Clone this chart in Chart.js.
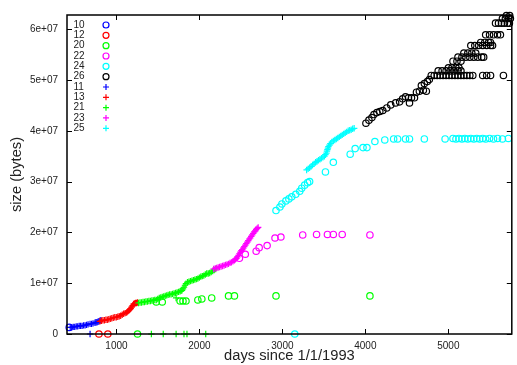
<!DOCTYPE html>
<html><head><meta charset="utf-8">
<script src="https://cdn.jsdelivr.net/npm/chart.js@4.4.1/dist/chart.umd.min.js"></script>
<style>html,body{margin:0;padding:0;background:#fff}#wrap{width:517px;height:365px;position:relative}</style>
</head><body><div id="wrap"><canvas id="c" width="517" height="365"></canvas></div>
<script>
const seriesNames = ['10','12','20','22','24','26','11','13','21','23','25'];
const seriesColors = ['#0000ff','#ff0000','#00ff00','#ff00ff','#00ffff','#000000','#0000ff','#ff0000','#00ff00','#ff00ff','#00ffff'];
const seriesMarks = ['circle','circle','circle','circle','circle','circle','cross','cross','cross','cross','cross'];
const xTicks = [1000, 2000, 3000, 4000, 5000];
const xTickLabels = ['1000', '2000', '3000', '4000', '5000'];
const yTicks = [0, 1e7, 2e7, 3e7, 4e7, 5e7, 6e7];
const yTickLabels = ['0', '1e+07', '2e+07', '3e+07', '4e+07', '5e+07', '6e+07'];
const xTitle = 'days since 1/1/1993';
const yTitle = 'size (bytes)';

// sizes in millions of bytes
const days10 = [431];
const size10 = [1.3];
const days12 = [789, 896];
const size12 = [0, 0];
const days20 = [1254, 1480, 1552, 1767, 1802, 1838, 1981, 2029, 2148, 2351, 2422, 2923, 4055];
const size20 = [0, 6.3, 6.3, 6.5, 6.5, 6.5, 6.7, 6.9, 7.1, 7.5, 7.5, 7.5, 7.5];
const days22 = [2482, 2553, 2684, 2720, 2816, 2911, 2982, 3245, 3412, 3543, 3614, 3721, 4055];
const size22 = [14.9, 15.7, 16.3, 17.0, 17.4, 18.9, 19.1, 19.5, 19.6, 19.6, 19.6, 19.6, 19.5];
const days24 = [3149, 2923, 2970, 2994, 3042, 3078, 3113, 3161, 3209, 3233, 3268, 3304, 3328,
  3519, 3614, 3817, 3877, 3972, 4019, 4115, 4234, 4341, 4389, 4484, 4532, 4711, 4961,
  5056, 5092, 5128, 5164, 5199, 5235, 5271, 5307, 5343, 5378, 5414, 5450, 5497, 5545, 5593, 5652, 5724];
const size24 = [0, 24.3, 25.0, 25.6, 26.2, 26.6, 27.0, 27.5, 28.1, 28.7, 29.3, 29.8, 30.0,
  31.9, 33.8, 35.4, 36.5, 36.7, 36.7, 37.9, 38.2, 38.4, 38.4, 38.4, 38.4, 38.4, 38.4,
  38.5, 38.4, 38.5, 38.4, 38.5, 38.4, 38.5, 38.4, 38.5, 38.4, 38.5, 38.4, 38.5, 38.4, 38.5, 38.4, 38.5];
const days26 = [4007, 4043, 4079, 4103, 4139, 4174, 4210, 4258, 4306, 4365, 4413, 4449, 4484, 4520, 4556, 4592, 4532, 4616, 4651, 4699, 4735, 4675, 4711, 4747, 4771,
  4794, 4830, 4866, 4901, 4937, 4973, 5009, 5044, 5080, 5116, 5152, 5187, 5223, 5259, 5295, 5414, 5462, 5509, 5664,
  4878, 4925, 4973, 5021, 5068, 5116, 5152,
  5001, 5044, 5092, 5128,
  5056, 5104, 5152,
  5116, 5164, 5211, 5259, 5307, 5354, 5402, 5426,
  5187, 5235, 5283, 5330,
  5271, 5319, 5366, 5414, 5462, 5509, 5533,
  5390, 5438, 5485, 5509,
  5450, 5497, 5545, 5593, 5628,
  5569, 5605, 5641, 5676, 5712, 5736,
  5652, 5688, 5724, 5748,
  5700, 5740];
const size26 = [41.5, 42.1, 42.6, 43.2, 43.6, 43.8, 44.0, 44.5, 45.1, 45.5, 45.7, 46.3, 46.7, 46.5, 46.5, 46.5, 45.5, 47.6, 47.8, 48.0, 47.8, 48.9, 49.3, 49.7, 50.1,
  50.9, 50.9, 50.9, 50.9, 50.9, 50.9, 50.9, 50.9, 50.9, 50.9, 50.9, 50.9, 50.9, 50.9, 50.9, 50.9, 50.9, 50.9, 50.9,
  51.8, 51.8, 51.8, 51.8, 51.8, 51.8, 51.8,
  52.4, 52.4, 52.4, 52.4,
  53.7, 53.7, 53.7,
  54.5, 54.5, 54.5, 54.5, 54.5, 54.5, 54.5, 54.5,
  55.3, 55.3, 55.3, 55.3,
  56.8, 56.8, 56.8, 56.8, 56.8, 56.8, 56.8,
  57.4, 57.4, 57.4, 57.4,
  58.9, 58.9, 58.9, 58.9, 58.9,
  61.2, 61.2, 61.2, 61.2, 61.2, 61.2,
  62.1, 62.1, 62.1, 62.1,
  62.7, 62.7];
const days11 = [682, 443, 461, 479, 497, 515, 533, 551, 568, 586, 604, 622, 640, 658, 682, 700, 718, 741, 753, 765, 777, 789, 801, 813];
const size11 = [0, 1.3, 1.3, 1.4, 1.4, 1.5, 1.5, 1.6, 1.6, 1.6, 1.7, 1.7, 1.8, 1.9, 2.0, 2.0, 2.1, 2.2, 2.3, 2.3, 2.4, 2.5, 2.6, 2.7];
const days13 = [801, 819, 837, 855, 873, 890, 908, 926, 944, 962, 980, 998, 1016, 1033, 1051, 1069, 1087, 1105, 1123, 1135, 1147, 1159, 1171, 1183, 1195, 1206, 1218, 1230, 1242, 1254];
const size13 = [2.5, 2.6, 2.7, 2.7, 2.8, 2.8, 2.9, 3.0, 3.1, 3.2, 3.3, 3.3, 3.4, 3.5, 3.6, 3.8, 4.0, 4.1, 4.2, 4.4, 4.6, 4.8, 5.0, 5.3, 5.6, 5.9, 6.0, 6.1, 6.1, 6.2];
const days21 = [1421, 1564, 1719, 1814, 1850, 2076,
  1266, 1284, 1302, 1320, 1337, 1355, 1373, 1391, 1409, 1427, 1445, 1462, 1480, 1498, 1516, 1534, 1552, 1570, 1588, 1606, 1623, 1641, 1659, 1677, 1695, 1713, 1719, 1731, 1749, 1767, 1779, 1790, 1802, 1814, 1826, 1838, 1856, 1874, 1892, 1910, 1928, 1945, 1963, 1981, 1999, 2017, 2035, 2053, 2071, 2088, 2106, 2124, 2142, 2160, 2178, 2196];
const size21 = [0, 0, 0, 0, 0, 0,
  6.1, 6.2, 6.2, 6.3, 6.3, 6.4, 6.4, 6.5, 6.5, 6.6, 6.6, 6.7, 6.7, 6.9, 7.1, 7.2, 7.3, 7.4, 7.5, 7.6, 7.7, 7.8, 7.8, 7.9, 8.0, 8.1, 7.1, 8.2, 8.3, 8.4, 8.5, 8.6, 8.9, 9.2, 9.6, 9.9, 10.2, 10.3, 10.4, 10.5, 10.6, 10.7, 10.8, 10.9, 11.1, 11.3, 11.4, 11.5, 11.7, 11.9, 11.9, 12.0, 12.2, 12.4, 12.6, 12.8];
const days23 = [2172, 2190, 2208, 2226, 2243, 2261, 2279, 2297, 2315, 2333, 2351, 2369, 2386, 2404, 2422, 2434, 2446, 2458, 2470, 2482, 2494, 2506, 2517, 2529, 2541, 2553, 2565, 2577, 2589, 2601, 2613, 2625, 2637, 2649, 2661, 2673, 2684, 2696, 2708];
const size23 = [12.8, 12.9, 13.0, 13.1, 13.2, 13.3, 13.4, 13.5, 13.6, 13.7, 13.8, 14.0, 14.1, 14.3, 14.5, 14.7, 14.9, 15.2, 15.5, 15.8, 16.1, 16.4, 16.6, 16.9, 17.2, 17.5, 17.8, 18.1, 18.4, 18.7, 18.9, 19.2, 19.5, 19.8, 20.1, 20.3, 20.6, 20.8, 21.0];
const days25 = [3292, 3310, 3328, 3346, 3364, 3382, 3400, 3418, 3435, 3453, 3471, 3489, 3507, 3519, 3531, 3537, 3543, 3549, 3555, 3567, 3579, 3596, 3614, 3632, 3650, 3668, 3686, 3704, 3721, 3739, 3757, 3775, 3793, 3811, 3829, 3847, 3865];
const size25 = [32.3, 32.5, 32.7, 33.0, 33.3, 33.5, 33.8, 34.0, 34.2, 34.4, 34.6, 34.8, 35.0, 35.3, 35.6, 36.0, 36.3, 36.6, 36.9, 37.2, 37.5, 37.8, 38.0, 38.2, 38.4, 38.6, 38.8, 39.0, 39.2, 39.4, 39.6, 39.8, 40.0, 40.1, 40.2, 40.4, 40.5];

const daysAll = [days10, days12, days20, days22, days24, days26, days11, days13, days21, days23, days25];
const sizeAll = [size10, size12, size20, size22, size24, size26, size11, size13, size21, size23, size25];

const FONT = "'Liberation Sans', Arial, Helvetica, sans-serif";
const TEXT = '#222';

const datasets = seriesNames.map((name, i) => ({
  label: name,
  data: daysAll[i].map((d, k) => ({ x: d, y: sizeAll[i][k] * 1e6 })),
  pointStyle: seriesMarks[i],
  pointRadius: 3.2,
  pointBorderWidth: 1.2,
  borderColor: seriesColors[i],
  backgroundColor: 'rgba(0,0,0,0)',
  showLine: false,
  clip: false,
  order: 20 - i
}));

const framePlugin = {
  id: 'frame',
  afterDraw(chart) {
    const { ctx, chartArea: a, scales: { x, y } } = chart;
    ctx.save();
    ctx.strokeStyle = '#000';
    ctx.lineWidth = 1;
    ctx.beginPath();
    xTicks.forEach(v => {
      const px = Math.round(x.getPixelForValue(v)) + 0.5;
      ctx.moveTo(px, a.bottom); ctx.lineTo(px, a.bottom - 5);
      ctx.moveTo(px, a.top); ctx.lineTo(px, a.top + 5);
    });
    yTicks.forEach(v => {
      const py = Math.round(y.getPixelForValue(v)) + 0.5;
      ctx.moveTo(a.left, py); ctx.lineTo(a.left + 5, py);
      ctx.moveTo(a.right, py); ctx.lineTo(a.right - 5, py);
    });
    ctx.stroke();
    ctx.lineWidth = 1.5;
    ctx.strokeRect(a.left, a.top, a.right - a.left, a.bottom - a.top);
    // key
    ctx.font = '10px ' + FONT;
    ctx.textAlign = 'left';
    ctx.textBaseline = 'middle';
    chart.data.datasets.forEach((ds, i) => {
      const ty = a.top + 10 + i * 10.33;
      ctx.fillStyle = TEXT;
      ctx.fillText(ds.label, a.left + 6.5, ty);
      ctx.strokeStyle = ds.borderColor;
      ctx.fillStyle = 'rgba(0,0,0,0)';
      ctx.lineWidth = 1.2;
      Chart.helpers.drawPoint(ctx, { pointStyle: ds.pointStyle, radius: 3, rotation: 0, borderWidth: 1.2 }, a.left + 39, ty);
    });
    ctx.restore();
  }
};

new Chart(document.getElementById('c'), {
  type: 'scatter',
  data: { datasets },
  plugins: [framePlugin],
  options: {
    responsive: false,
    animation: false,
    events: [],
    layout: { padding: { top: 6, right: 1, left: 0, bottom: 0 } },
    plugins: { legend: { display: false }, tooltip: { enabled: false } },
    scales: {
      x: {
        type: 'linear', min: 404, max: 5765,
        grid: { display: false, drawTicks: false },
        border: { display: false },
        afterBuildTicks: s => { s.ticks = xTicks.map(v => ({ value: v })); },
        afterFit: s => { s.height = 31; },
        ticks: { padding: 6, color: TEXT, font: { family: FONT, size: 10 }, maxRotation: 0,
          callback: v => xTickLabels[xTicks.indexOf(v)] },
        title: { display: true, text: xTitle, color: TEXT, font: { family: FONT, size: 14.7 }, padding: { top: 0, bottom: 0 } }
      },
      y: {
        type: 'linear', min: 0, max: 62.8e6,
        grid: { display: false, drawTicks: false },
        border: { display: false },
        afterBuildTicks: s => { s.ticks = yTicks.map(v => ({ value: v })); },
        afterFit: s => { s.width = 67; },
        ticks: { padding: 9, color: TEXT, font: { family: FONT, size: 10 },
          callback: v => yTickLabels[yTicks.indexOf(v)] },
        title: { display: true, text: yTitle, color: TEXT, font: { family: FONT, size: 14.7 }, padding: { top: 8, bottom: 0 } }
      }
    }
  }
});
</script>
</body></html>
